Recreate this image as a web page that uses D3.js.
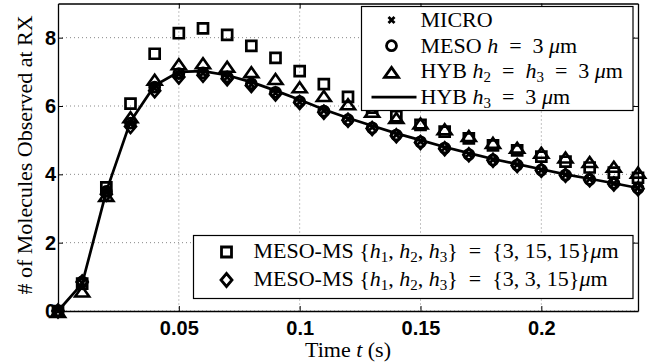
<!DOCTYPE html>
<html lang="en">
<head>
<meta charset="utf-8">
<title>Molecules observed at RX</title>
<script src="https://d3js.org/d3.v7.min.js"></script>
<style>
  body { margin: 0; background: #fff; }
</style>
</head>
<body>
<div id="chart"></div>
<script>
// time samples (s)
var times = [0, 0.01, 0.02, 0.03, 0.04, 0.05, 0.06, 0.07, 0.08, 0.09, 0.10, 0.11, 0.12,
             0.13, 0.14, 0.15, 0.16, 0.17, 0.18, 0.19, 0.20, 0.21, 0.22, 0.23, 0.24];

// series values
var micro  = [0, 0.82, 3.48, 5.48, 6.52, 6.93, 6.96, 6.84, 6.63, 6.38, 6.12, 5.86, 5.61, 5.38, 5.16, 4.96, 4.77, 4.59, 4.43, 4.28, 4.13, 3.99, 3.86, 3.73, 3.60];
var meso   = [0, 0.85, 3.50, 5.50, 6.55, 6.95, 6.97, 6.85, 6.65, 6.40, 6.13, 5.85, 5.60, 5.36, 5.15, 4.95, 4.77, 4.58, 4.42, 4.27, 4.13, 3.98, 3.85, 3.74, 3.59];
var hybTri = [0, 0.60, 3.40, 5.70, 6.80, 7.25, 7.28, 7.18, 7.02, 6.82, 6.58, 6.32, 6.08, 5.86, 5.68, 5.52, 5.35, 5.15, 4.95, 4.81, 4.66, 4.52, 4.39, 4.25, 4.08];
var hybLine= [0, 0.80, 3.50, 5.55, 6.60, 7.00, 7.02, 6.90, 6.70, 6.45, 6.18, 5.90, 5.65, 5.42, 5.20, 5.00, 4.80, 4.62, 4.45, 4.30, 4.15, 4.00, 3.87, 3.74, 3.60];
var ms15   = [0, 0.80, 3.62, 6.07, 7.53, 8.13, 8.27, 8.08, 7.76, 7.41, 7.02, 6.64, 6.27, 5.95, 5.70, 5.45, 5.25, 5.05, 4.85, 4.70, 4.52, 4.37, 4.20, 4.05, 3.90];
var ms3    = [0, 0.85, 3.42, 5.40, 6.45, 6.85, 6.90, 6.80, 6.60, 6.35, 6.10, 5.82, 5.58, 5.34, 5.13, 4.93, 4.75, 4.57, 4.41, 4.26, 4.12, 3.97, 3.84, 3.72, 3.58];

var xTicks = [0.05, 0.1, 0.15, 0.2];
var yTicks = [0, 2, 4, 6, 8];

var SERIF = '"Liberation Serif", "DejaVu Serif", "Times New Roman", serif';
var SANS = '"Liberation Sans", Arial, Helvetica, sans-serif';

var W = 656, H = 364;
var margin = {top: 3.5, right: 18, bottom: 53, left: 58};
var width = W - margin.left - margin.right,
    height = H - margin.top - margin.bottom;

var svg = d3.select("#chart").append("svg")
    .attr("width", W).attr("height", H);
var g = svg.append("g")
    .attr("transform", "translate(" + margin.left + "," + margin.top + ")");

var x = d3.scaleLinear().domain([0, 0.24]).range([0, width]);
var y = d3.scaleLinear().domain([0, 9]).range([height, 0]);

// grid
g.selectAll(".gx").data(xTicks).enter().append("line")
  .attr("x1", function(d){ return x(d); }).attr("x2", function(d){ return x(d); })
  .attr("y1", 0).attr("y2", height)
  .attr("stroke", "#888").attr("stroke-width", 1).attr("stroke-dasharray", "1,3");
g.selectAll(".gy").data(yTicks).enter().append("line")
  .attr("y1", function(d){ return y(d); }).attr("y2", function(d){ return y(d); })
  .attr("x1", 0).attr("x2", width)
  .attr("stroke", "#888").attr("stroke-width", 1).attr("stroke-dasharray", "1,3");

// axes (inward ticks, box)
var xb = g.append("g").attr("transform", "translate(0," + height + ")")
  .call(d3.axisBottom(x).tickValues(xTicks).tickSizeInner(-5).tickSizeOuter(0).tickFormat(d3.format("")));
var xt = g.append("g")
  .call(d3.axisTop(x).tickValues(xTicks).tickSizeInner(-5).tickSizeOuter(0).tickFormat(""));
var yl = g.append("g")
  .call(d3.axisLeft(y).tickValues(yTicks).tickSizeInner(-5).tickSizeOuter(0));
var yr = g.append("g").attr("transform", "translate(" + width + ",0)")
  .call(d3.axisRight(y).tickValues(yTicks).tickSizeInner(-5).tickSizeOuter(0).tickFormat(""));
[xb, xt, yl, yr].forEach(function(a){
  a.select(".domain").attr("stroke", "#000").attr("stroke-width", 1.3);
  a.selectAll(".tick line").attr("stroke", "#000");
});
xb.selectAll(".tick text").attr("fill", "#000").attr("dy", "1.05em")
  .attr("font-family", SANS).attr("font-weight", "bold").attr("font-size", 20);
yl.selectAll(".tick text").attr("fill", "#000").attr("dx", 1)
  .attr("font-family", SANS).attr("font-weight", "bold").attr("font-size", 20);

// marker shapes
var shapes = {
  x: "M-3,-3L3,3M3,-3L-3,3",
  o: d3.symbol().type(d3.symbolCircle).size(78)(),
  tri: "M0,-4L7,6L-7,6Z",
  sq: "M-5,-5H5V5H-5Z",
  dia: "M0,-6.5L5.5,0L0,6.5L-5.5,0Z"
};

function markers(vals, shape, sw) {
  g.append("g").selectAll("path").data(vals).enter().append("path")
    .attr("d", shapes[shape])
    .attr("transform", function(d, i){ return "translate(" + x(times[i]) + "," + y(d) + ")"; })
    .attr("fill", "none").attr("stroke", "#000").attr("stroke-width", sw);
}

markers(micro, "x", 2.8);
markers(meso, "o", 2.8);
markers(hybTri, "tri", 2.6);
g.append("path").datum(hybLine)
  .attr("d", d3.line().x(function(d, i){ return x(times[i]); }).y(function(d){ return y(d); }))
  .attr("fill", "none").attr("stroke", "#000").attr("stroke-width", 2.7);
markers(ms15, "sq", 2.7);
markers(ms3, "dia", 2.6);

function tex(sel) {
  return sel.attr("font-family", SERIF).attr("font-size", 22).attr("fill", "#000");
}

// axis titles
tex(svg.append("text"))
  .attr("x", 348).attr("y", 357).attr("text-anchor", "middle")
  .html('Time <tspan font-style="italic">t</tspan> (s)');
tex(svg.append("text"))
  .attr("transform", "translate(31.5,155) rotate(-90)")
  .attr("text-anchor", "middle")
  .text("# of Molecules Observed at RX");

// legends
var EQ = "\u2002=\u2002";
function it(s) { return '<tspan font-style="italic">' + s + '</tspan>'; }
function sub(s, after) {
  return '<tspan font-size="15" dy="4">' + s + '</tspan><tspan dy="-4">' + after + '</tspan>';
}

var legTop = [
  {shape: "x",   label: "MICRO"},
  {shape: "o",   label: "MESO " + it("h") + EQ + "3 " + it("μ") + "m"},
  {shape: "tri", label: "HYB " + it("h") + sub("2", EQ) + it("h") + sub("3", EQ + "3 ") + it("μ") + "m"},
  {shape: "line",label: "HYB " + it("h") + sub("3", EQ + "3 ") + it("μ") + "m"}
];
var lt = svg.append("g").attr("transform", "translate(361.5,6.5)");
lt.append("rect").attr("width", 271.5).attr("height", 104)
  .attr("fill", "#fff").attr("stroke", "#000").attr("stroke-width", 1.2);
legTop.forEach(function(d, i){
  var cy = 13.5 + i * 25.7;
  if (d.shape === "line") {
    lt.append("line").attr("x1", 10).attr("x2", 55).attr("y1", cy).attr("y2", cy)
      .attr("stroke", "#000").attr("stroke-width", 2.7);
  } else {
    lt.append("path").attr("d", shapes[d.shape])
      .attr("transform", "translate(30," + cy + ")")
      .attr("fill", "none").attr("stroke", "#000").attr("stroke-width", 2.8);
  }
  tex(lt.append("text")).attr("x", 59).attr("y", cy + 7).html(d.label);
});

var legBot = [
  {shape: "sq",  label: "MESO-MS {" + it("h") + sub("1", ", ") + it("h") + sub("2", ", ") + it("h") + sub("3", "}" + EQ + "{3, 15, 15}") + it("μ") + "m"},
  {shape: "dia", label: "MESO-MS {" + it("h") + sub("1", ", ") + it("h") + sub("2", ", ") + it("h") + sub("3", "}" + EQ + "{3, 3, 15}") + it("μ") + "m"}
];
var lb = svg.append("g").attr("transform", "translate(193.5,235.5)");
lb.append("rect").attr("width", 439.5).attr("height", 63)
  .attr("fill", "#fff").attr("stroke", "#000").attr("stroke-width", 1.2);
legBot.forEach(function(d, i){
  var cy = 16.5 + i * 28;
  lb.append("path").attr("d", shapes[d.shape])
    .attr("transform", "translate(33," + cy + ")")
    .attr("fill", "none").attr("stroke", "#000").attr("stroke-width", 2.8);
  tex(lb.append("text")).attr("x", 60).attr("y", cy + 6).html(d.label);
});
</script>
</body>
</html>
